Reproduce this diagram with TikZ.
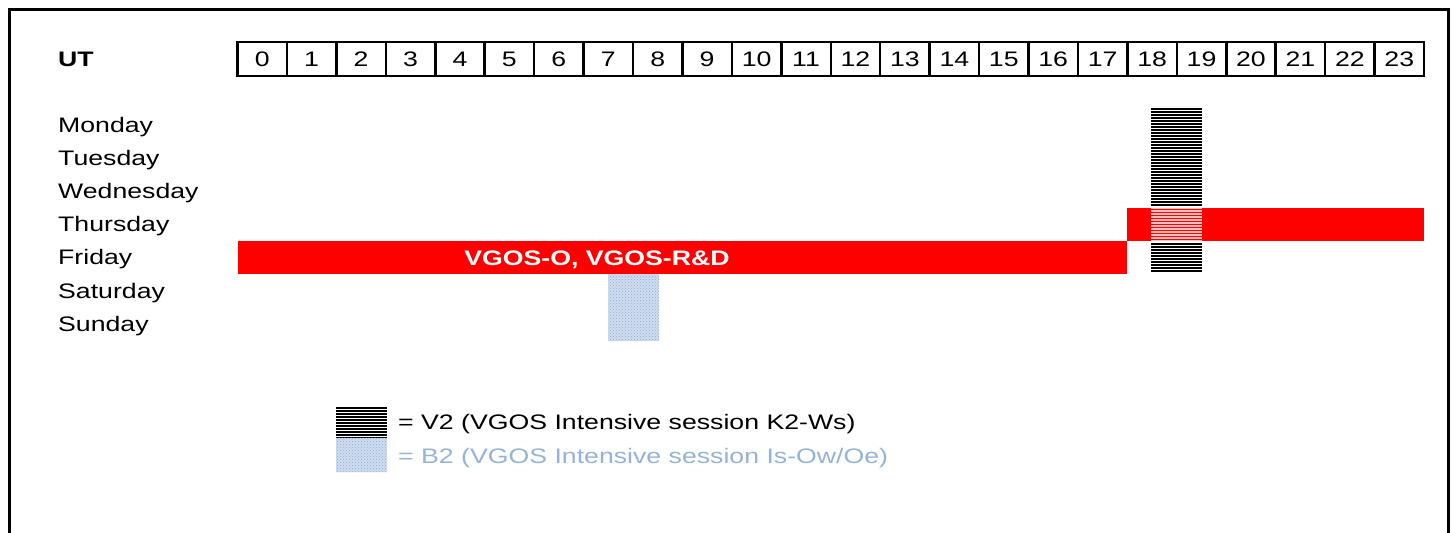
\documentclass[tikz,border=0pt]{standalone}
\usepackage{fontspec}
\setmainfont{Liberation Sans}[FakeStretch=1.27]
\usetikzlibrary{patterns}
\definecolor{sessred}{HTML}{FF0000}
\definecolor{btext}{HTML}{95B3D7}
\definecolor{bbase}{HTML}{D0DDEE}
\definecolor{bdot}{HTML}{8EAADB}
\tikzset{
  lbl/.style={anchor=base west, inner sep=0pt, font=\fontsize{21}{24}\selectfont},
  hr/.style={anchor=base, inner sep=0pt, font=\fontsize{21}{24}\selectfont},
  hatchline/.style={line width=1.6pt, black},
  b2fill/.style={fill=bbase, postaction={pattern=crosshatch dots, pattern color=bdot}},
}
\begin{document}
\begin{tikzpicture}[x=1pt,y=-1pt]
\clip (0,0) rectangle (1452,533);
% frame
\draw[line width=3pt] (9.5,9.5) rectangle (1448,620);
% header
\node[lbl, font=\fontsize{21}{24}\selectfont\bfseries] (ut) at (58,66.5) {UT};
\draw[line width=2.5pt] (237.5,42) rectangle (1424,76);
\foreach \k in {1,...,23} {
  \draw[line width=2.5pt] ({237.5+\k*49.4375},42) -- ({237.5+\k*49.4375},76);
}
\foreach \k in {0,...,23} {
  \node[hr] (h\k) at ({237.5+(\k+0.5)*49.4375},66.5) {\k};
}
% day labels
\foreach \d [count=\i from 0] in {Monday,Tuesday,Wednesday,Thursday,Friday,Saturday,Sunday} {
  \node[lbl] (day\i) at (58,{132+33.2*\i}) {\d};
}
% red sessions
\fill[sessred] (237.5,241) rectangle (1127,274);
\fill[sessred] (1127,208) rectangle (1424,241);
\node[hr, text=white, font=\fontsize{21}{24}\selectfont\bfseries] (vgos) at (597,265) {VGOS-O, VGOS-R\&D};
% V2 hatched block
\fill[white] (1151,108) rectangle (1201.5,208);
\fill[white] (1151,241) rectangle (1201.5,273.5);
\foreach \k in {0,...,54} {
  \pgfmathsetmacro{\yy}{109+\k*3}
  \ifdim\yy pt<208pt
    \draw[hatchline] (1151,\yy) -- (1201.5,\yy);
  \else\ifdim\yy pt>241pt
    \draw[hatchline] (1151,\yy) -- (1201.5,\yy);
  \else
    \draw[line width=1.2pt, white, opacity=0.75] (1151,\yy) -- (1201.5,\yy);
  \fi\fi
}
% B2 dotted block
\path[b2fill] (608,274) rectangle (659,340.5);
% legend
\fill[white] (336,406.5) rectangle (387,437.5);
\foreach \k in {0,...,10} {
  \draw[hatchline] (336,{408+\k*3}) -- (387,{408+\k*3});
}
\path[b2fill] (336,437.5) rectangle (387,472);
\node[lbl] (legv) at (398,429.5) {= V2 (VGOS Intensive session K2-Ws)};
\node[lbl, text=btext] (legb) at (398,463.5) {= B2 (VGOS Intensive session Is-Ow/Oe)};
\end{tikzpicture}
\end{document}
